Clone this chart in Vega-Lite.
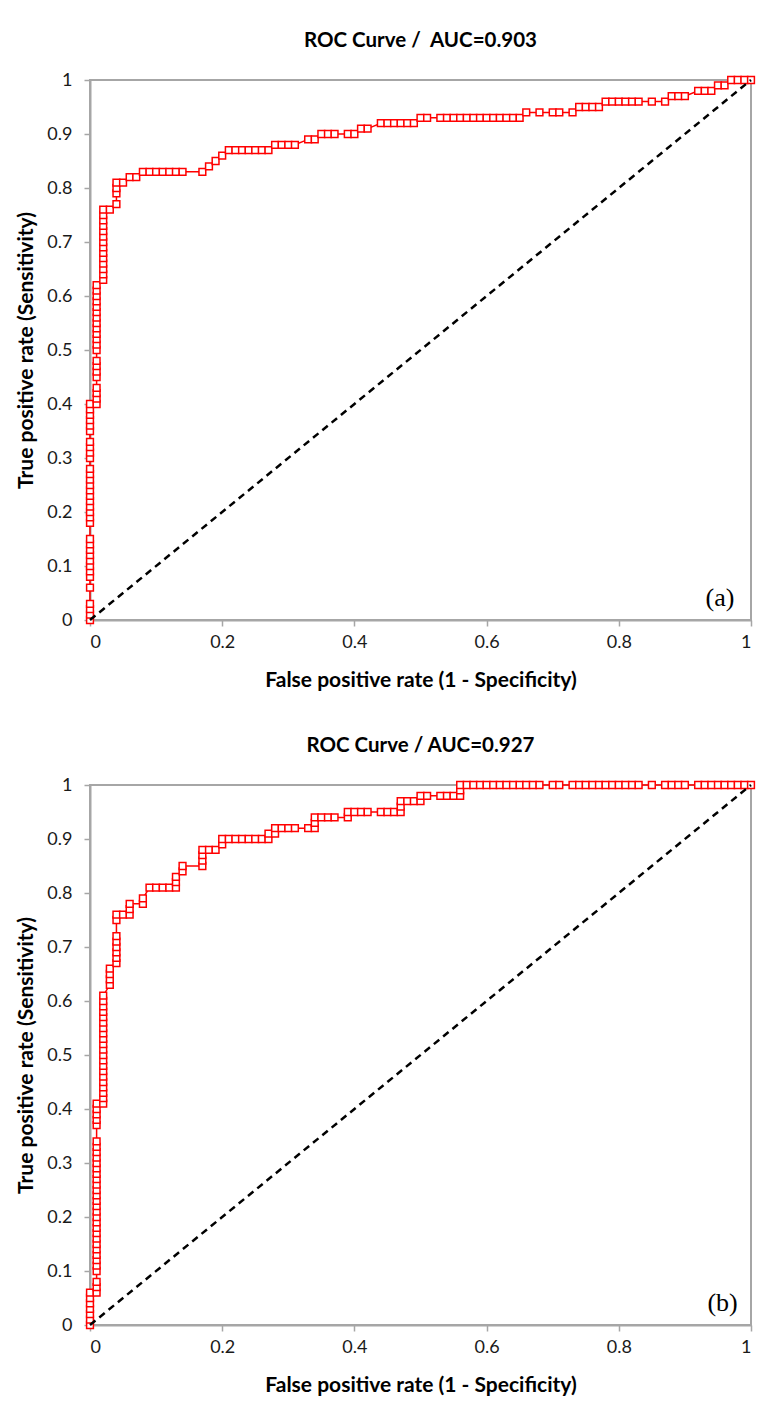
{
"$schema": "https://vega.github.io/schema/vega-lite/v6.json",
"padding": {"left": 14, "top": 29, "right": 5, "bottom": 5},
"datasets": {
"rocA": [
{"fpr":0,"tpr":0},{"fpr":0,"tpr":0.01},{"fpr":0,"tpr":0.02},{"fpr":0,"tpr":0.03},{"fpr":0,"tpr":0.06},{"fpr":0,"tpr":0.08},{"fpr":0,"tpr":0.09},{"fpr":0,"tpr":0.10},{"fpr":0,"tpr":0.11},{"fpr":0,"tpr":0.12},{"fpr":0,"tpr":0.13},{"fpr":0,"tpr":0.14},{"fpr":0,"tpr":0.15},{"fpr":0,"tpr":0.18},{"fpr":0,"tpr":0.19},{"fpr":0,"tpr":0.20},{"fpr":0,"tpr":0.21},{"fpr":0,"tpr":0.22},{"fpr":0,"tpr":0.23},{"fpr":0,"tpr":0.24},{"fpr":0,"tpr":0.25},{"fpr":0,"tpr":0.26},{"fpr":0,"tpr":0.27},{"fpr":0,"tpr":0.28},{"fpr":0,"tpr":0.30},{"fpr":0,"tpr":0.31},{"fpr":0,"tpr":0.32},{"fpr":0,"tpr":0.33},{"fpr":0,"tpr":0.35},{"fpr":0,"tpr":0.36},{"fpr":0,"tpr":0.37},{"fpr":0,"tpr":0.38},{"fpr":0,"tpr":0.39},{"fpr":0,"tpr":0.40},
{"fpr":0.01,"tpr":0.40},{"fpr":0.01,"tpr":0.41},{"fpr":0.01,"tpr":0.42},{"fpr":0.01,"tpr":0.43},{"fpr":0.01,"tpr":0.45},{"fpr":0.01,"tpr":0.46},{"fpr":0.01,"tpr":0.47},{"fpr":0.01,"tpr":0.48},{"fpr":0.01,"tpr":0.50},{"fpr":0.01,"tpr":0.51},{"fpr":0.01,"tpr":0.52},{"fpr":0.01,"tpr":0.53},{"fpr":0.01,"tpr":0.54},{"fpr":0.01,"tpr":0.55},{"fpr":0.01,"tpr":0.56},{"fpr":0.01,"tpr":0.57},{"fpr":0.01,"tpr":0.58},{"fpr":0.01,"tpr":0.59},{"fpr":0.01,"tpr":0.60},{"fpr":0.01,"tpr":0.61},{"fpr":0.01,"tpr":0.62},
{"fpr":0.02,"tpr":0.63},{"fpr":0.02,"tpr":0.64},{"fpr":0.02,"tpr":0.65},{"fpr":0.02,"tpr":0.66},{"fpr":0.02,"tpr":0.67},{"fpr":0.02,"tpr":0.68},{"fpr":0.02,"tpr":0.69},{"fpr":0.02,"tpr":0.70},{"fpr":0.02,"tpr":0.71},{"fpr":0.02,"tpr":0.72},{"fpr":0.02,"tpr":0.73},{"fpr":0.02,"tpr":0.74},{"fpr":0.02,"tpr":0.75},{"fpr":0.02,"tpr":0.76},
{"fpr":0.03,"tpr":0.76},{"fpr":0.04,"tpr":0.77},{"fpr":0.04,"tpr":0.79},{"fpr":0.04,"tpr":0.80},{"fpr":0.04,"tpr":0.81},{"fpr":0.05,"tpr":0.81},{"fpr":0.06,"tpr":0.82},{"fpr":0.07,"tpr":0.82},
{"fpr":0.08,"tpr":0.83},{"fpr":0.09,"tpr":0.83},{"fpr":0.10,"tpr":0.83},{"fpr":0.11,"tpr":0.83},{"fpr":0.12,"tpr":0.83},{"fpr":0.13,"tpr":0.83},{"fpr":0.14,"tpr":0.83},{"fpr":0.17,"tpr":0.83},
{"fpr":0.18,"tpr":0.84},{"fpr":0.19,"tpr":0.85},{"fpr":0.20,"tpr":0.86},
{"fpr":0.21,"tpr":0.87},{"fpr":0.22,"tpr":0.87},{"fpr":0.23,"tpr":0.87},{"fpr":0.24,"tpr":0.87},{"fpr":0.25,"tpr":0.87},{"fpr":0.26,"tpr":0.87},{"fpr":0.27,"tpr":0.87},
{"fpr":0.28,"tpr":0.88},{"fpr":0.29,"tpr":0.88},{"fpr":0.30,"tpr":0.88},{"fpr":0.31,"tpr":0.88},
{"fpr":0.33,"tpr":0.89},{"fpr":0.34,"tpr":0.89},
{"fpr":0.35,"tpr":0.90},{"fpr":0.36,"tpr":0.90},{"fpr":0.37,"tpr":0.90},{"fpr":0.39,"tpr":0.90},{"fpr":0.40,"tpr":0.90},
{"fpr":0.41,"tpr":0.91},{"fpr":0.42,"tpr":0.91},
{"fpr":0.44,"tpr":0.92},{"fpr":0.45,"tpr":0.92},{"fpr":0.46,"tpr":0.92},{"fpr":0.47,"tpr":0.92},{"fpr":0.48,"tpr":0.92},{"fpr":0.49,"tpr":0.92},
{"fpr":0.50,"tpr":0.93},{"fpr":0.51,"tpr":0.93},{"fpr":0.53,"tpr":0.93},{"fpr":0.54,"tpr":0.93},{"fpr":0.55,"tpr":0.93},{"fpr":0.56,"tpr":0.93},{"fpr":0.57,"tpr":0.93},{"fpr":0.58,"tpr":0.93},{"fpr":0.59,"tpr":0.93},{"fpr":0.60,"tpr":0.93},{"fpr":0.61,"tpr":0.93},{"fpr":0.62,"tpr":0.93},{"fpr":0.63,"tpr":0.93},{"fpr":0.64,"tpr":0.93},{"fpr":0.65,"tpr":0.93},
{"fpr":0.66,"tpr":0.94},{"fpr":0.68,"tpr":0.94},{"fpr":0.70,"tpr":0.94},{"fpr":0.71,"tpr":0.94},{"fpr":0.73,"tpr":0.94},
{"fpr":0.74,"tpr":0.95},{"fpr":0.75,"tpr":0.95},{"fpr":0.76,"tpr":0.95},{"fpr":0.77,"tpr":0.95},
{"fpr":0.78,"tpr":0.96},{"fpr":0.79,"tpr":0.96},{"fpr":0.80,"tpr":0.96},{"fpr":0.81,"tpr":0.96},{"fpr":0.82,"tpr":0.96},{"fpr":0.83,"tpr":0.96},{"fpr":0.85,"tpr":0.96},{"fpr":0.87,"tpr":0.96},
{"fpr":0.88,"tpr":0.97},{"fpr":0.89,"tpr":0.97},{"fpr":0.90,"tpr":0.97},
{"fpr":0.92,"tpr":0.98},{"fpr":0.93,"tpr":0.98},{"fpr":0.94,"tpr":0.98},
{"fpr":0.95,"tpr":0.99},{"fpr":0.96,"tpr":0.99},
{"fpr":0.97,"tpr":1.0},{"fpr":0.98,"tpr":1.0},{"fpr":0.99,"tpr":1.0},{"fpr":1.0,"tpr":1.0}
],
"rocB": [
{"fpr":0,"tpr":0},{"fpr":0,"tpr":0.01},{"fpr":0,"tpr":0.02},{"fpr":0,"tpr":0.03},{"fpr":0,"tpr":0.04},{"fpr":0,"tpr":0.05},{"fpr":0,"tpr":0.06},
{"fpr":0.01,"tpr":0.06},{"fpr":0.01,"tpr":0.07},{"fpr":0.01,"tpr":0.08},{"fpr":0.01,"tpr":0.10},{"fpr":0.01,"tpr":0.11},{"fpr":0.01,"tpr":0.12},{"fpr":0.01,"tpr":0.13},{"fpr":0.01,"tpr":0.14},{"fpr":0.01,"tpr":0.15},{"fpr":0.01,"tpr":0.16},{"fpr":0.01,"tpr":0.17},{"fpr":0.01,"tpr":0.18},{"fpr":0.01,"tpr":0.19},{"fpr":0.01,"tpr":0.20},{"fpr":0.01,"tpr":0.21},{"fpr":0.01,"tpr":0.22},{"fpr":0.01,"tpr":0.23},{"fpr":0.01,"tpr":0.24},{"fpr":0.01,"tpr":0.25},{"fpr":0.01,"tpr":0.26},{"fpr":0.01,"tpr":0.27},{"fpr":0.01,"tpr":0.28},{"fpr":0.01,"tpr":0.29},{"fpr":0.01,"tpr":0.30},{"fpr":0.01,"tpr":0.31},{"fpr":0.01,"tpr":0.32},{"fpr":0.01,"tpr":0.33},{"fpr":0.01,"tpr":0.34},{"fpr":0.01,"tpr":0.37},{"fpr":0.01,"tpr":0.38},{"fpr":0.01,"tpr":0.39},{"fpr":0.01,"tpr":0.40},{"fpr":0.01,"tpr":0.41},
{"fpr":0.02,"tpr":0.41},{"fpr":0.02,"tpr":0.42},{"fpr":0.02,"tpr":0.43},{"fpr":0.02,"tpr":0.44},{"fpr":0.02,"tpr":0.45},{"fpr":0.02,"tpr":0.46},{"fpr":0.02,"tpr":0.47},{"fpr":0.02,"tpr":0.48},{"fpr":0.02,"tpr":0.49},{"fpr":0.02,"tpr":0.50},{"fpr":0.02,"tpr":0.51},{"fpr":0.02,"tpr":0.52},{"fpr":0.02,"tpr":0.53},{"fpr":0.02,"tpr":0.54},{"fpr":0.02,"tpr":0.55},{"fpr":0.02,"tpr":0.56},{"fpr":0.02,"tpr":0.57},{"fpr":0.02,"tpr":0.58},{"fpr":0.02,"tpr":0.59},{"fpr":0.02,"tpr":0.60},{"fpr":0.02,"tpr":0.61},
{"fpr":0.03,"tpr":0.63},{"fpr":0.03,"tpr":0.64},{"fpr":0.03,"tpr":0.65},{"fpr":0.03,"tpr":0.66},
{"fpr":0.04,"tpr":0.67},{"fpr":0.04,"tpr":0.68},{"fpr":0.04,"tpr":0.69},{"fpr":0.04,"tpr":0.70},{"fpr":0.04,"tpr":0.71},{"fpr":0.04,"tpr":0.72},{"fpr":0.04,"tpr":0.75},{"fpr":0.04,"tpr":0.76},
{"fpr":0.05,"tpr":0.76},{"fpr":0.06,"tpr":0.76},{"fpr":0.06,"tpr":0.77},{"fpr":0.06,"tpr":0.78},
{"fpr":0.08,"tpr":0.78},{"fpr":0.08,"tpr":0.79},
{"fpr":0.09,"tpr":0.81},{"fpr":0.10,"tpr":0.81},{"fpr":0.11,"tpr":0.81},{"fpr":0.12,"tpr":0.81},
{"fpr":0.13,"tpr":0.81},{"fpr":0.13,"tpr":0.82},{"fpr":0.13,"tpr":0.83},
{"fpr":0.14,"tpr":0.84},{"fpr":0.14,"tpr":0.85},
{"fpr":0.17,"tpr":0.85},{"fpr":0.17,"tpr":0.86},{"fpr":0.17,"tpr":0.87},{"fpr":0.17,"tpr":0.88},
{"fpr":0.18,"tpr":0.88},{"fpr":0.19,"tpr":0.88},
{"fpr":0.20,"tpr":0.89},{"fpr":0.20,"tpr":0.90},
{"fpr":0.21,"tpr":0.90},{"fpr":0.22,"tpr":0.90},{"fpr":0.23,"tpr":0.90},{"fpr":0.24,"tpr":0.90},{"fpr":0.25,"tpr":0.90},{"fpr":0.26,"tpr":0.90},
{"fpr":0.27,"tpr":0.90},{"fpr":0.27,"tpr":0.91},
{"fpr":0.28,"tpr":0.91},{"fpr":0.28,"tpr":0.92},
{"fpr":0.29,"tpr":0.92},{"fpr":0.30,"tpr":0.92},{"fpr":0.31,"tpr":0.92},{"fpr":0.33,"tpr":0.92},{"fpr":0.34,"tpr":0.92},
{"fpr":0.34,"tpr":0.93},{"fpr":0.34,"tpr":0.94},
{"fpr":0.35,"tpr":0.94},{"fpr":0.36,"tpr":0.94},{"fpr":0.37,"tpr":0.94},
{"fpr":0.39,"tpr":0.94},{"fpr":0.39,"tpr":0.95},
{"fpr":0.40,"tpr":0.95},{"fpr":0.41,"tpr":0.95},{"fpr":0.42,"tpr":0.95},
{"fpr":0.44,"tpr":0.95},{"fpr":0.45,"tpr":0.95},{"fpr":0.46,"tpr":0.95},{"fpr":0.47,"tpr":0.95},
{"fpr":0.47,"tpr":0.96},{"fpr":0.47,"tpr":0.97},
{"fpr":0.48,"tpr":0.97},{"fpr":0.49,"tpr":0.97},{"fpr":0.50,"tpr":0.97},
{"fpr":0.50,"tpr":0.98},{"fpr":0.51,"tpr":0.98},
{"fpr":0.53,"tpr":0.98},{"fpr":0.54,"tpr":0.98},{"fpr":0.55,"tpr":0.98},{"fpr":0.56,"tpr":0.98},
{"fpr":0.56,"tpr":0.99},{"fpr":0.56,"tpr":1.0},
{"fpr":0.57,"tpr":1.0},{"fpr":0.58,"tpr":1.0},{"fpr":0.59,"tpr":1.0},{"fpr":0.60,"tpr":1.0},{"fpr":0.61,"tpr":1.0},{"fpr":0.62,"tpr":1.0},{"fpr":0.63,"tpr":1.0},{"fpr":0.64,"tpr":1.0},{"fpr":0.65,"tpr":1.0},{"fpr":0.66,"tpr":1.0},{"fpr":0.67,"tpr":1.0},
{"fpr":0.68,"tpr":1.0},{"fpr":0.70,"tpr":1.0},{"fpr":0.71,"tpr":1.0},
{"fpr":0.73,"tpr":1.0},{"fpr":0.74,"tpr":1.0},{"fpr":0.75,"tpr":1.0},{"fpr":0.76,"tpr":1.0},{"fpr":0.77,"tpr":1.0},{"fpr":0.78,"tpr":1.0},{"fpr":0.79,"tpr":1.0},{"fpr":0.80,"tpr":1.0},{"fpr":0.81,"tpr":1.0},{"fpr":0.82,"tpr":1.0},{"fpr":0.83,"tpr":1.0},
{"fpr":0.85,"tpr":1.0},
{"fpr":0.87,"tpr":1.0},{"fpr":0.88,"tpr":1.0},{"fpr":0.89,"tpr":1.0},{"fpr":0.90,"tpr":1.0},
{"fpr":0.92,"tpr":1.0},{"fpr":0.93,"tpr":1.0},{"fpr":0.94,"tpr":1.0},{"fpr":0.95,"tpr":1.0},{"fpr":0.96,"tpr":1.0},{"fpr":0.97,"tpr":1.0},{"fpr":0.98,"tpr":1.0},{"fpr":0.99,"tpr":1.0},{"fpr":1.0,"tpr":1.0}
],
"diag": [{"fpr":0,"tpr":0},{"fpr":1,"tpr":1}],
"labA": [{"fpr":0.975,"tpr":0.04,"label":"(a)"}],
"labB": [{"fpr":0.98,"tpr":0.04,"label":"(b)"}]
},
"spacing": 43,
"vconcat": [
{
"title": {"text": "ROC Curve / \u00a0AUC=0.903"},
"width": 661, "height": 540,
"encoding": {
"x": {"field": "fpr", "type": "quantitative", "scale": {"domain": [0, 1], "nice": false}, "axis": {"title": "False positive rate (1 - Specificity)", "values": [0, 0.2, 0.4, 0.6, 0.8, 1], "format": "~g"}},
"y": {"field": "tpr", "type": "quantitative", "scale": {"domain": [0, 1], "nice": false}, "axis": {"title": "True positive rate (Sensitivity)", "values": [0, 0.1, 0.2, 0.3, 0.4, 0.5, 0.6, 0.7, 0.8, 0.9, 1], "format": "~g"}}
},
"layer": [
{"data": {"name": "rocA"}, "mark": {"type": "line", "color": "#ff0000", "strokeWidth": 1.5}, "encoding": {"order": {"value": null}}},
{"data": {"name": "rocA"}, "mark": {"type": "point", "shape": "square", "filled": true, "fill": "white", "stroke": "#ff0000", "strokeWidth": 1.5, "size": 46, "opacity": 1}},
{"data": {"name": "diag"}, "mark": {"type": "line", "color": "black", "strokeDash": [7, 5], "strokeWidth": 2.5}},
{"data": {"name": "labA"}, "mark": {"type": "text", "font": "Liberation Serif", "fontSize": 26, "align": "right", "baseline": "middle", "color": "black"}, "encoding": {"text": {"field": "label"}}}
]
},
{
"title": {"text": "ROC Curve / AUC=0.927"},
"width": 661, "height": 540,
"encoding": {
"x": {"field": "fpr", "type": "quantitative", "scale": {"domain": [0, 1], "nice": false}, "axis": {"title": "False positive rate (1 - Specificity)", "values": [0, 0.2, 0.4, 0.6, 0.8, 1], "format": "~g"}},
"y": {"field": "tpr", "type": "quantitative", "scale": {"domain": [0, 1], "nice": false}, "axis": {"title": "True positive rate (Sensitivity)", "values": [0, 0.1, 0.2, 0.3, 0.4, 0.5, 0.6, 0.7, 0.8, 0.9, 1], "format": "~g"}}
},
"layer": [
{"data": {"name": "rocB"}, "mark": {"type": "line", "color": "#ff0000", "strokeWidth": 1.5}, "encoding": {"order": {"value": null}}},
{"data": {"name": "rocB"}, "mark": {"type": "point", "shape": "square", "filled": true, "fill": "white", "stroke": "#ff0000", "strokeWidth": 1.5, "size": 46, "opacity": 1}},
{"data": {"name": "diag"}, "mark": {"type": "line", "color": "black", "strokeDash": [7, 5], "strokeWidth": 2.5}},
{"data": {"name": "labB"}, "mark": {"type": "text", "font": "Liberation Serif", "fontSize": 26, "align": "right", "baseline": "middle", "color": "black"}, "encoding": {"text": {"field": "label"}}}
]
}
],
"config": {
"font": "Lato",
"background": "white",
"view": {"stroke": "#a6a6a6", "strokeWidth": 2},
"axis": {"grid": false, "domainColor": "#a6a6a6", "domainWidth": 2, "tickColor": "#a6a6a6", "tickWidth": 1.5, "tickSize": 6, "labelFont": "Lato", "labelFontSize": 18, "labelColor": "#1a1a1a", "titleFont": "Lato", "titleFontSize": 21, "titleFontWeight": "bold", "titleColor": "#000000"},
"axisX": {"labelPadding": 7, "titlePadding": 18},
"axisY": {"labelPadding": 12, "titlePadding": 10},
"title": {"font": "Lato", "fontSize": 20.5, "fontWeight": "bold", "color": "#000000", "offset": 20, "anchor": "middle"}
}
}
